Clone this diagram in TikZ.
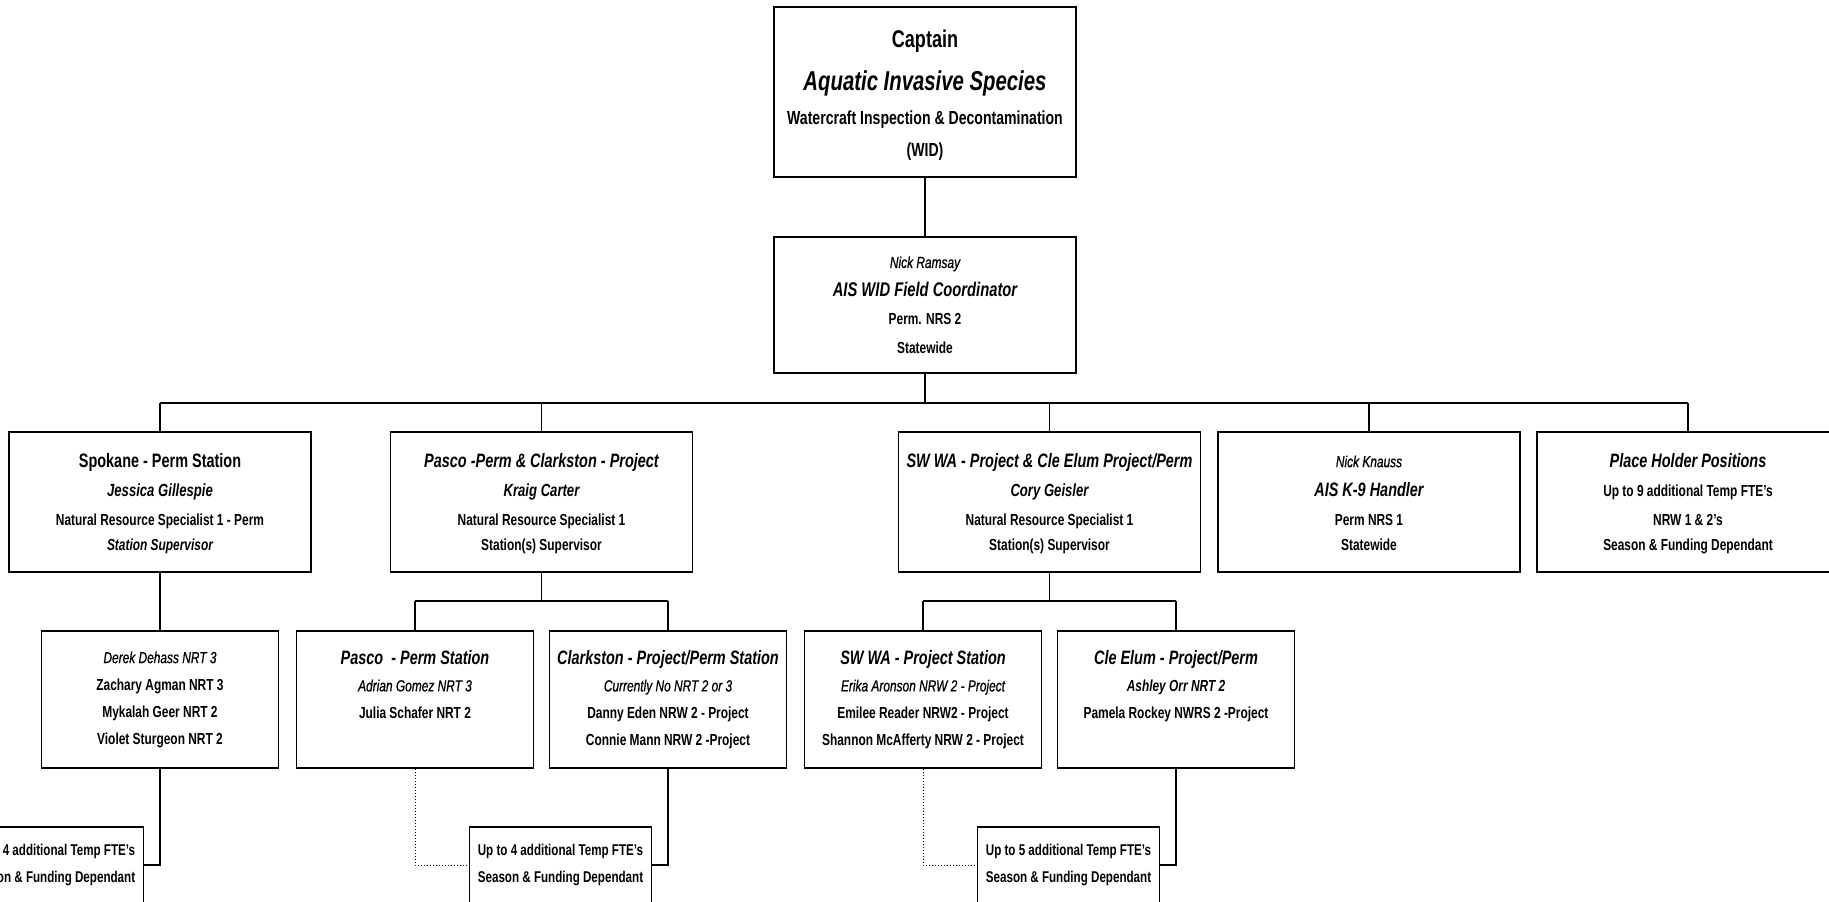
\documentclass[tikz,border=0pt]{standalone}
\usepackage{fontspec}
\setmainfont[FakeStretch=0.745]{Liberation Sans}
\newfontfamily\semifam[FakeStretch=0.745,FakeBold=0.7]{Liberation Sans}
\newcommand\fsz[2]{\fontsize{#1}{#2}\selectfont}
\newcommand\hTitle[1]{{\fsz{19.4}{28}\itshape #1}}
\newcommand\hName[1]{{\fsz{17.6}{28}\itshape #1}}
\newcommand\hItal[1]{{\semifam\mdseries\itshape #1}}
\newcommand\hBIt[1]{{\itshape #1}}
\tikzset{
  box/.style={draw=black, line width=1.7pt, fill=white, rectangle, align=center, inner sep=0pt},
  capbox/.style={box, minimum width=302pt, minimum height=170pt, font=\fsz{18.9}{34}\bfseries},
  lvtwo/.style={box, minimum width=302pt, minimum height=140pt, font=\fsz{16}{28.5}\bfseries},
  coordbox/.style={box, minimum width=302pt, minimum height=136pt, font=\fsz{16}{28.5}\bfseries},
  lvthree/.style={box, minimum width=237pt, minimum height=137pt, font=\fsz{16}{27}\bfseries},
  lvfour/.style={box, minimum width=182pt, minimum height=76pt, font=\fsz{15.6}{26.5}\bfseries},
  conn/.style={line width=1.1pt},
  busline/.style={line width=1.8pt},
  elbow/.style={line width=1.8pt},
  dotconn/.style={line width=1pt, dash pattern=on 1.5pt off 1.5pt},
}
\begin{document}
\begin{tikzpicture}[x=1pt,y=-1pt]
\fill[white] (0,0) rectangle (1829,902);
\useasboundingbox (0,0) rectangle (1829,902);
\clip (0,0) rectangle (1829,902);

% level 0 and 1
\node[capbox] (cap) at (925,92) {\rule{0pt}{24pt}{\fsz{24.2}{34}Captain}\\[9pt]
  {\fsz{27.3}{34}\itshape Aquatic Invasive Species}\\[0.5pt]
  Watercraft Inspection \& Decontamination\\[-2pt]
  (WID)};
\node[coordbox] (crd) at (925,305) {\hItal{Nick Ramsay}\\
  {\fsz{19.8}{28}\itshape AIS WID Field Coordinator}\\
  Perm. NRS 2\\
  Statewide};

% level 2
\node[lvtwo] (spk) at (160,502) {\rule{0pt}{17pt}\hTitle{\upshape Spokane - Perm Station}\\[0.5pt]
  \hName{Jessica Gillespie}\\[0.5pt]
  Natural Resource Specialist 1 - Perm\\[-3pt]
  \hBIt{Station Supervisor}};
\node[lvtwo] (pas) at (541.5,502) {\rule{0pt}{17pt}\hTitle{Pasco -Perm \& Clarkston - Project}\\[0.5pt]
  \hName{Kraig Carter}\\[0.5pt]
  Natural Resource Specialist 1\\[-3pt]
  Station(s) Supervisor};
\node[lvtwo] (sw) at (1049.5,502) {\rule{0pt}{17pt}\hTitle{SW WA - Project \& Cle Elum Project/Perm}\\[0.5pt]
  \hName{Cory Geisler}\\[0.5pt]
  Natural Resource Specialist 1\\[-3pt]
  Station(s) Supervisor};
\node[lvtwo] (k9) at (1369,502) {\rule{0pt}{14pt}\hItal{Nick Knauss}\\[1pt]
  \hTitle{AIS K-9 Handler}\\
  Perm NRS 1\\[-3pt]
  Statewide};
\node[lvtwo] (plc) at (1688,502) {\rule{0pt}{17pt}\hTitle{Place Holder Positions}\\[0.5pt]
  Up to 9 additional Temp FTE's\\[0.5pt]
  NRW 1 \& 2's\\[-3pt]
  Season \& Funding Dependant};

% level 3
\node[lvthree] (sps) at (160,699.5) {\hItal{Derek Dehass NRT 3}\\
  Zachary Agman NRT 3\\
  Mykalah Geer NRT 2\\
  Violet Sturgeon NRT 2};
\node[lvthree] (pp) at (415,699.5) {\hTitle{Pasco\ \ - Perm Station}\\
  \hItal{Adrian Gomez NRT 3}\\
  Julia Schafer NRT 2\\
  \phantom{Xg}};
\node[lvthree] (clk) at (668,699.5) {\hTitle{Clarkston - Project/Perm Station}\\
  \hItal{Currently No NRT 2 or 3}\\
  Danny Eden NRW 2 - Project\\
  Connie Mann NRW 2 -Project};
\node[lvthree] (swp) at (923,699.5) {\hTitle{SW WA - Project Station}\\
  \hItal{Erika Aronson NRW 2 - Project}\\
  Emilee Reader NRW2 - Project\\
  Shannon McAfferty NRW 2 - Project};
\node[lvthree] (cle) at (1176,699.5) {\hTitle{Cle Elum - Project/Perm}\\
  \hBIt{Ashley Orr NRT 2}\\
  Pamela Rockey NWRS 2 -Project\\
  \phantom{Xg}};

% level 4
\node[lvfour] (bl) at (52.5,865) {Up to 4 additional Temp FTE's\\Season \& Funding Dependant};
\node[lvfour] (bp) at (560.5,865) {Up to 4 additional Temp FTE's\\Season \& Funding Dependant};
\node[lvfour] (bs) at (1068.5,865) {Up to 5 additional Temp FTE's\\Season \& Funding Dependant};

% buses
\coordinate (bus) at (0,403);
\coordinate (subbus) at (0,601);

\draw[conn] (cap.south) -- (crd.north);
\draw[conn] (crd.south) -- (crd.south |- bus);
\draw[busline] (spk.north |- bus) -- (plc.north |- bus);
\foreach \n in {spk,pas,sw,k9,plc} \draw[conn] (\n.north) -- (\n.north |- bus);

\draw[conn] (spk.south) -- (sps.north);

\draw[conn] (pas.south) -- (pas.south |- subbus);
\draw[busline] (pp.north |- subbus) -- (clk.north |- subbus);
\draw[conn] (pp.north) -- (pp.north |- subbus);
\draw[conn] (clk.north) -- (clk.north |- subbus);

\draw[conn] (sw.south) -- (sw.south |- subbus);
\draw[busline] (swp.north |- subbus) -- (cle.north |- subbus);
\draw[conn] (swp.north) -- (swp.north |- subbus);
\draw[conn] (cle.north) -- (cle.north |- subbus);

% to bottom boxes
\draw[elbow] (sps.south) |- (bl.east);
\draw[elbow] (clk.south) |- (bp.east);
\draw[dotconn] (pp.south) |- (bp.west);
\draw[elbow] (cle.south) |- (bs.east);
\draw[dotconn] (swp.south) |- (bs.west);
\end{tikzpicture}
\end{document}
